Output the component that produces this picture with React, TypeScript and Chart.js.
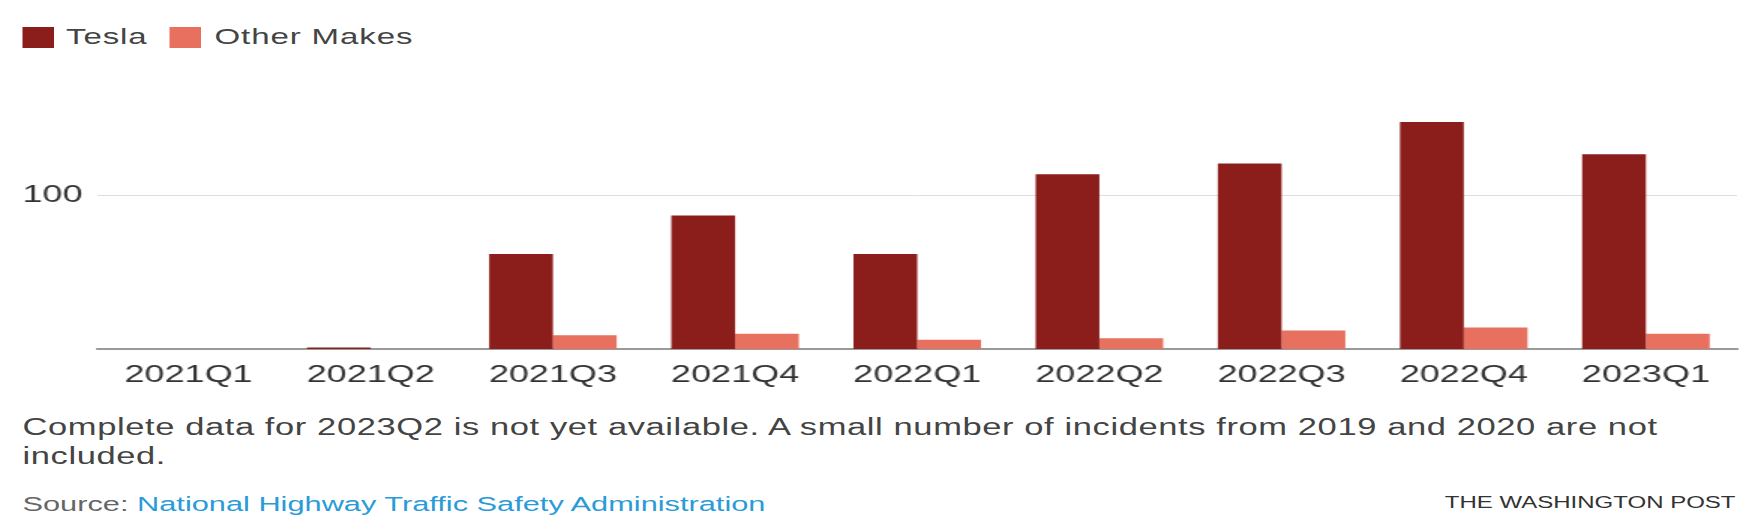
import React, { useEffect, useRef } from "react";
import { Chart, registerables } from "chart.js";

Chart.register(...registerables);

const categories = ["2021Q1", "2021Q2", "2021Q3", "2021Q4", "2022Q1", "2022Q2", "2022Q3", "2022Q4", "2023Q1"];
const teslaValues = [0, 1, 62, 87, 62, 114, 121, 148, 127];
const otherValues = [0, 0, 9, 10, 6, 7, 12, 14, 10];
const yTickValues = [100];
const seriesNames = ["Tesla", "Other Makes"];
const seriesColors = ["#8b1e1b", "#e8705f"];

const FONT = '"Liberation Sans", Arial, sans-serif';
const INNER_W = 1162;
const STRETCH = 1.5;

export default function App() {
  const canvasRef = useRef<HTMLCanvasElement | null>(null);

  useEffect(() => {
    const canvas = canvasRef.current;
    if (!canvas) return;
    const chart = new Chart(canvas, {
      type: "bar",
      data: {
        labels: categories,
        datasets: [
          { label: seriesNames[0], data: teslaValues, backgroundColor: seriesColors[0], borderWidth: 0 },
          { label: seriesNames[1], data: otherValues, backgroundColor: seriesColors[1], borderWidth: 0 },
        ],
      },
      options: {
        responsive: false,
        animation: false,
        devicePixelRatio: 1,
        layout: { padding: { top: 119, left: 15, right: 4, bottom: 0 } },
        plugins: {
          legend: { display: false },
          tooltip: { enabled: false },
        },
        datasets: {
          bar: { categoryPercentage: 0.7, barPercentage: 1.0 },
        },
        scales: {
          x: {
            type: "category",
            offset: true,
            grid: { display: false, drawTicks: false },
            border: { display: true, color: "#9a9a9a", width: 2 },
            ticks: {
              font: { family: FONT, size: 24 },
              color: "#333",
              padding: 12,
              maxRotation: 0,
              autoSkip: false,
            },
            afterFit: (scale: any) => {
              scale.height = 51;
            },
          },
          y: {
            min: 0,
            max: 150,
            grid: { color: "#dddddd", lineWidth: 1, drawTicks: false },
            border: { display: false },
            ticks: {
              font: { family: FONT, size: 24 },
              color: "#333",
              padding: 10,
            },
            afterBuildTicks: (scale: any) => {
              scale.ticks = yTickValues.map((v) => ({ value: v }));
            },
            afterFit: (scale: any) => {
              scale.width = 50;
            },
          },
        },
      },
    });
    return () => chart.destroy();
  }, []);

  const box = (color: string, left: number): React.CSSProperties => ({
    position: "absolute",
    left,
    top: 27,
    width: 21,
    height: 21,
    background: color,
  });

  const legendText = (left: number): React.CSSProperties => ({
    position: "absolute",
    left,
    top: 23,
    fontSize: 22,
    lineHeight: "28px",
    letterSpacing: "0.6px",
    color: "#444",
    whiteSpace: "nowrap",
  });

  return (
    <div
      style={{
        position: "absolute",
        left: 0,
        top: 0,
        width: INNER_W,
        height: 522,
        transform: `scaleX(${STRETCH})`,
        transformOrigin: "0 0",
        background: "#fff",
        fontFamily: FONT,
        overflow: "hidden",
      }}
    >
      <div style={box(seriesColors[0], 15)} />
      <div style={legendText(44)}>{seriesNames[0]}</div>
      <div style={box(seriesColors[1], 113)} />
      <div style={legendText(143)}>{seriesNames[1]}</div>

      <canvas
        ref={canvasRef}
        width={INNER_W}
        height={400}
        style={{ position: "absolute", left: 0, top: 0, width: INNER_W, height: 400 }}
      />

      <div
        style={{
          position: "absolute",
          left: 15,
          top: 413,
          fontSize: 23,
          lineHeight: "29px",
          letterSpacing: "0.4px",
          color: "#444",
          whiteSpace: "nowrap",
        }}
      >
        Complete data for 2023Q2 is not yet available. A small number of incidents from 2019 and 2020 are not
        <br />
        included.
      </div>

      <div
        style={{
          position: "absolute",
          left: 15,
          top: 492,
          fontSize: 20.5,
          lineHeight: "24px",
          color: "#666",
          whiteSpace: "nowrap",
        }}
      >
        Source: <span style={{ color: "#2a9bd8" }}>National Highway Traffic Safety Administration</span>
      </div>

      <div
        style={{
          position: "absolute",
          right: 5,
          top: 493,
          fontSize: 16,
          lineHeight: "20px",
          color: "#333",
          whiteSpace: "nowrap",
        }}
      >
        THE WASHINGTON POST
      </div>
    </div>
  );
}
